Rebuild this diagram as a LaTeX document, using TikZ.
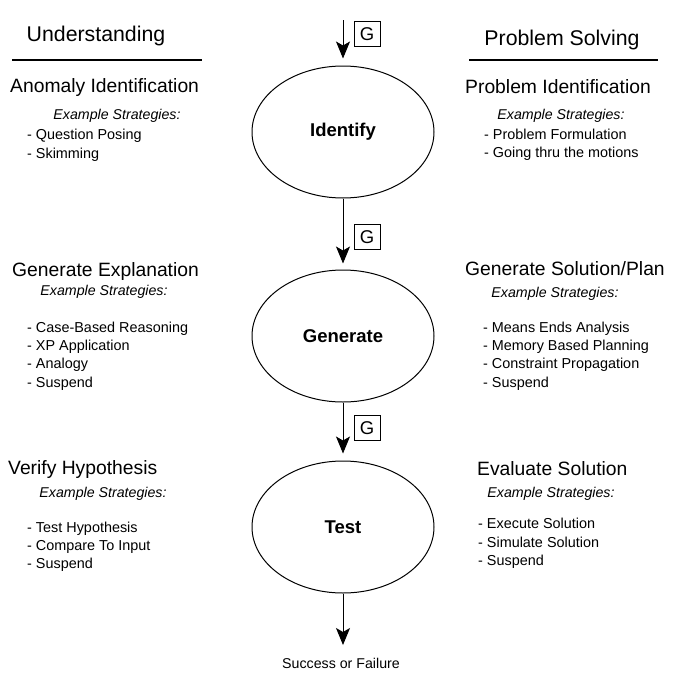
\documentclass[tikz,border=0pt]{standalone}
\usepackage{fontspec}
\setmainfont{Liberation Sans}
\usetikzlibrary{arrows.meta,shapes.geometric}

\tikzset{
  stage/.style={ellipse,draw,line width=1pt,minimum width=182pt,minimum height=132pt,
    inner sep=0pt,font=\fontsize{18.5}{21}\selectfont\bfseries},
  goal/.style={draw,line width=1pt,minimum width=26pt,minimum height=25pt,inner sep=0pt,
    font=\fontsize{18.5}{21}\selectfont},
  flow/.style={line width=1pt,-{Stealth[length=17pt,width=14pt,inset=4pt]}},
  side/.style={anchor=base,inner sep=0pt,font=\fontsize{21.3}{25}\selectfont},
  phase/.style={anchor=base west,inner sep=0pt,font=\fontsize{19.3}{22}\selectfont},
  strat/.style={anchor=base,inner sep=0pt,font=\fontsize{14.2}{17}\selectfont\itshape},
  entry/.style={anchor=base west,inner sep=0pt,font=\fontsize{14.4}{17}\selectfont},
}

\begin{document}
\begin{tikzpicture}[x=1pt,y=-1pt]
\useasboundingbox (0,0) rectangle (677,691);

% the three stages down the middle
\coordinate (start) at (343,20);
\node[stage] (identify) at (343,132) {Identify};
\node[stage] (generate) at (343,336) {Generate};
\node[stage] (test) at (343,527) {Test};
\coordinate (finish) at (343,645);

\draw[flow,shorten >=7pt] (start) -- (identify.north);
\draw[flow,shorten >=6pt] (identify.south) -- (generate.north);
\draw[flow,shorten >=7pt] (generate.south) -- (test.north);
\draw[flow] (test.south) -- (finish);

\node[goal] (g1) at (367,34) {G};
\node[goal] (g2) at (367,237) {G};
\node[goal] (g3) at (367,428) {G};

\node[anchor=base,inner sep=0pt,font=\fontsize{14.2}{17}\selectfont] (result) at (341,668) {Success or Failure};

% left column
\node[side] (under) at (96,41) {Understanding};
\draw[line width=2pt] (12,60) -- (202,60);

\node[phase] (anomaly) at (10,92) {Anomaly Identification};
\node[strat] (exa) at (117,119) {Example Strategies:};
\node[entry] (la1) at (27,139) {- Question Posing};
\node[entry] (la2) at (27,158) {- Skimming};

\node[phase] (explain) at (12,276) {Generate Explanation};
\node[strat] (exb) at (104,295) {Example Strategies:};
\node[entry] (lb1) at (27,332) {- Case-Based Reasoning};
\node[entry] (lb2) at (27,350) {- XP Application};
\node[entry] (lb3) at (27,368) {- Analogy};
\node[entry] (lb4) at (27,387) {- Suspend};

\node[phase] (verify) at (8,474) {Verify Hypothesis};
\node[strat] (exc) at (103,497) {Example Strategies:};
\node[entry] (lc1) at (27,532) {- Test Hypothesis};
\node[entry] (lc2) at (27,550) {- Compare To Input};
\node[entry] (lc3) at (27,568) {- Suspend};

% right column
\node[side] (solve) at (562,45) {Problem Solving};
\draw[line width=2pt] (469,60) -- (658,60);

\node[phase] (probid) at (465,93) {Problem Identification};
\node[strat] (exd) at (561,119) {Example Strategies:};
\node[entry] (ra1) at (484,139) {- Problem Formulation};
\node[entry] (ra2) at (484,157) {- Going thru the motions};

\node[phase] (plan) at (465,275) {Generate Solution/Plan};
\node[strat] (exe) at (555,297) {Example Strategies:};
\node[entry] (rb1) at (483,332) {- Means Ends Analysis};
\node[entry] (rb2) at (483,350) {- Memory Based Planning};
\node[entry] (rb3) at (483,368) {- Constraint Propagation};
\node[entry] (rb4) at (483,387) {- Suspend};

\node[phase] (evaluate) at (477,475) {Evaluate Solution};
\node[strat] (exf) at (551,497) {Example Strategies:};
\node[entry] (rc1) at (478,528) {- Execute Solution};
\node[entry] (rc2) at (478,547) {- Simulate Solution};
\node[entry] (rc3) at (478,565) {- Suspend};
\end{tikzpicture}
\end{document}
